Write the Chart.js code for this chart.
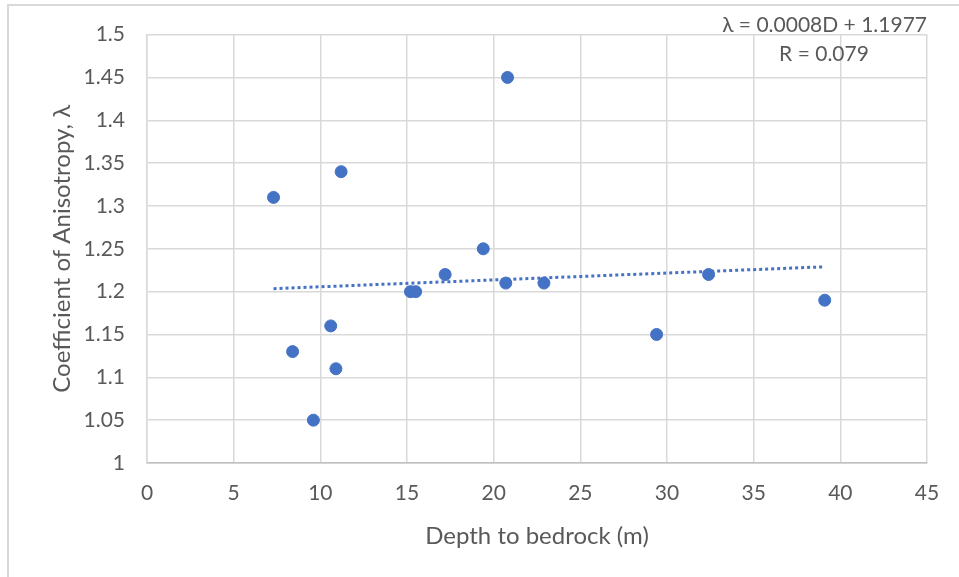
<!DOCTYPE html>
<html>
<head>
<meta charset="utf-8">
<script src="https://cdn.jsdelivr.net/npm/chart.js@4.4.1/dist/chart.umd.min.js"></script>
<style>
  html, body { margin: 0; padding: 0; background: #fff; }
  #wrap { width: 959px; height: 577px; }
</style>
</head>
<body>
<div id="wrap"><canvas id="anisoChart" width="959" height="577"></canvas></div>
<script>
const depth = [7.3, 8.4, 9.6, 10.6, 10.9, 11.2, 15.2, 15.5, 17.2, 19.4, 20.7, 20.8, 22.9, 29.4, 32.4, 39.1];
const coef = [1.31, 1.13, 1.05, 1.16, 1.11, 1.34, 1.20, 1.20, 1.22, 1.25, 1.21, 1.45, 1.21, 1.15, 1.22, 1.19];
const trendX = [7.3, 39.1];
const trendY = [1.2035, 1.2290];
const xTicks = [0, 5, 10, 15, 20, 25, 30, 35, 40, 45];
const yTicks = [1, 1.05, 1.1, 1.15, 1.2, 1.25, 1.3, 1.35, 1.4, 1.45, 1.5];
const equationText = 'λ = 0.0008D + 1.1977';
const rText = 'R = 0.079';

const textColor = '#595959';
const fontFamily = 'Lato, "Open Sans", sans-serif';

const frameAndNotes = {
    id: 'frameAndNotes',
    beforeDraw(chart) {
        const c = chart.ctx;
        c.save();
        c.strokeStyle = '#d9d9d9';
        c.lineWidth = 2;
        c.strokeRect(8, 5, 1000, 1000);
        c.restore();
    },
    afterDraw(chart) {
        const c = chart.ctx;
        c.save();
        c.fillStyle = textColor;
        c.font = '21px ' + fontFamily;
        c.textBaseline = 'middle';
        c.textAlign = 'right';
        c.fillText(equationText, 927, 25);
        c.textAlign = 'center';
        c.fillText(rText, 824, 54);
        c.restore();
    }
};

const ctx = document.getElementById('anisoChart').getContext('2d');
const anisoChart = new Chart(ctx, {
    type: 'scatter',
    data: {
        datasets: [{
            label: 'Data',
            data: depth.map((d, i) => ({ x: d, y: coef[i] })),
            backgroundColor: '#4472C4',
            borderColor: '#4472C4',
            pointRadius: 6,
            borderWidth: 1,
            order: 1
        }, {
            label: 'Trend',
            type: 'line',
            data: trendX.map((d, i) => ({ x: d, y: trendY[i] })),
            borderColor: '#4472C4',
            borderWidth: 3,
            borderDash: [3, 3],
            pointRadius: 0,
            fill: false,
            order: 2
        }]
    },
    options: {
        responsive: false,
        animation: false,
        layout: { padding: { top: 34, right: 32, bottom: 0, left: 0 } },
        plugins: {
            legend: { display: false },
            tooltip: { enabled: false }
        },
        scales: {
            x: {
                type: 'linear',
                min: 0,
                max: 45,
                afterBuildTicks: s => { s.ticks = xTicks.map(v => ({ value: v })); },
                afterFit: s => { s.height = 114; },
                grid: { color: '#d9d9d9', lineWidth: 1.5, drawTicks: false },
                border: { color: '#bfbfbf', width: 1.5 },
                ticks: {
                    color: textColor,
                    padding: 18,
                    font: { family: fontFamily, size: 21 },
                    maxRotation: 0
                },
                title: {
                    display: true,
                    text: 'Depth to bedrock (m)',
                    color: textColor,
                    font: { family: fontFamily, size: 24 },
                    padding: { top: 0, bottom: 26 }
                }
            },
            y: {
                min: 1,
                max: 1.5,
                afterBuildTicks: s => { s.ticks = yTicks.map(v => ({ value: v })); },
                afterFit: s => { s.width = 147; },
                grid: { color: '#d9d9d9', lineWidth: 1.5, drawTicks: false },
                border: { color: '#d9d9d9', width: 1.5 },
                ticks: {
                    color: textColor,
                    padding: 22,
                    font: { family: fontFamily, size: 21 },
                    callback: v => String(+v.toFixed(2))
                },
                title: {
                    display: true,
                    text: 'Coefficient of Anisotropy, λ',
                    color: textColor,
                    font: { family: fontFamily, size: 24 },
                    padding: { top: 48, bottom: 0 }
                }
            }
        }
    },
    plugins: [frameAndNotes]
});
</script>
</body>
</html>
